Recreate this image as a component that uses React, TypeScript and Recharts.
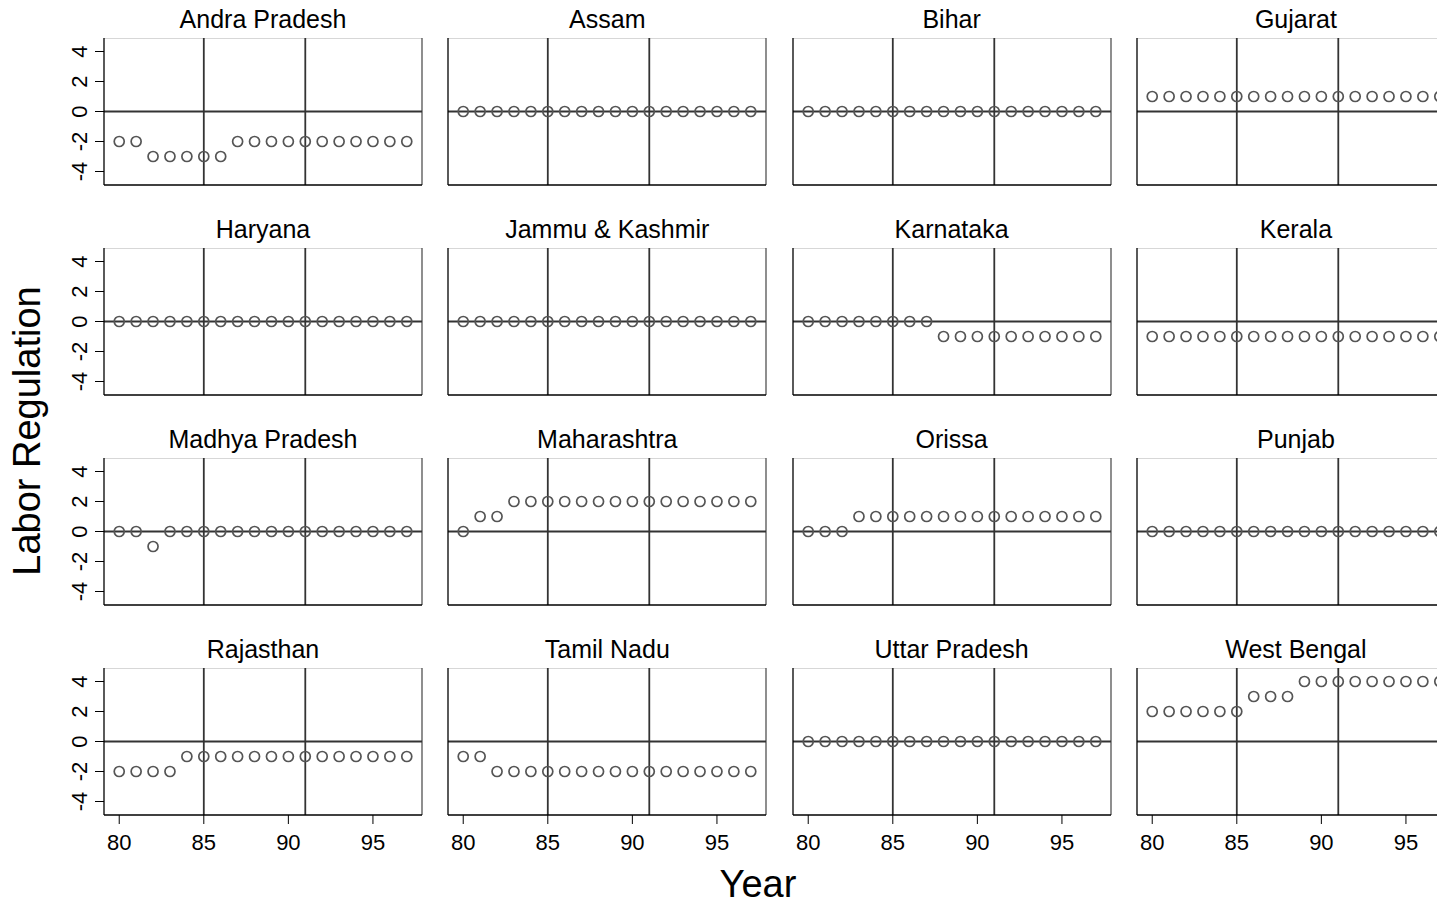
import {
  ScatterChart,
  Scatter,
  XAxis,
  YAxis,
  ReferenceLine,
} from "recharts";

const years = [80, 81, 82, 83, 84, 85, 86, 87, 88, 89, 90, 91, 92, 93, 94, 95, 96, 97];

const andraPradesh = [-2, -2, -3, -3, -3, -3, -3, -2, -2, -2, -2, -2, -2, -2, -2, -2, -2, -2];
const assam = [0, 0, 0, 0, 0, 0, 0, 0, 0, 0, 0, 0, 0, 0, 0, 0, 0, 0];
const bihar = [0, 0, 0, 0, 0, 0, 0, 0, 0, 0, 0, 0, 0, 0, 0, 0, 0, 0];
const gujarat = [1, 1, 1, 1, 1, 1, 1, 1, 1, 1, 1, 1, 1, 1, 1, 1, 1, 1];
const haryana = [0, 0, 0, 0, 0, 0, 0, 0, 0, 0, 0, 0, 0, 0, 0, 0, 0, 0];
const jammuKashmir = [0, 0, 0, 0, 0, 0, 0, 0, 0, 0, 0, 0, 0, 0, 0, 0, 0, 0];
const karnataka = [0, 0, 0, 0, 0, 0, 0, 0, -1, -1, -1, -1, -1, -1, -1, -1, -1, -1];
const kerala = [-1, -1, -1, -1, -1, -1, -1, -1, -1, -1, -1, -1, -1, -1, -1, -1, -1, -1];
const madhyaPradesh = [0, 0, -1, 0, 0, 0, 0, 0, 0, 0, 0, 0, 0, 0, 0, 0, 0, 0];
const maharashtra = [0, 1, 1, 2, 2, 2, 2, 2, 2, 2, 2, 2, 2, 2, 2, 2, 2, 2];
const orissa = [0, 0, 0, 1, 1, 1, 1, 1, 1, 1, 1, 1, 1, 1, 1, 1, 1, 1];
const punjab = [0, 0, 0, 0, 0, 0, 0, 0, 0, 0, 0, 0, 0, 0, 0, 0, 0, 0];
const rajasthan = [-2, -2, -2, -2, -1, -1, -1, -1, -1, -1, -1, -1, -1, -1, -1, -1, -1, -1];
const tamilNadu = [-1, -1, -2, -2, -2, -2, -2, -2, -2, -2, -2, -2, -2, -2, -2, -2, -2, -2];
const uttarPradesh = [0, 0, 0, 0, 0, 0, 0, 0, 0, 0, 0, 0, 0, 0, 0, 0, 0, 0];
const westBengal = [2, 2, 2, 2, 2, 2, 3, 3, 3, 4, 4, 4, 4, 4, 4, 4, 4, 4];

const xTicks = [80, 85, 90, 95];
const yTicks = [-4, -2, 0, 2, 4];
const refYears = [85, 91];

const panels = [
  { name: "Andra Pradesh", values: andraPradesh },
  { name: "Assam", values: assam },
  { name: "Bihar", values: bihar },
  { name: "Gujarat", values: gujarat },
  { name: "Haryana", values: haryana },
  { name: "Jammu & Kashmir", values: jammuKashmir },
  { name: "Karnataka", values: karnataka },
  { name: "Kerala", values: kerala },
  { name: "Madhya Pradesh", values: madhyaPradesh },
  { name: "Maharashtra", values: maharashtra },
  { name: "Orissa", values: orissa },
  { name: "Punjab", values: punjab },
  { name: "Rajasthan", values: rajasthan },
  { name: "Tamil Nadu", values: tamilNadu },
  { name: "Uttar Pradesh", values: uttarPradesh },
  { name: "West Bengal", values: westBengal },
];

const FONT = "'Liberation Sans', Arial, Helvetica, sans-serif";
const X_DOMAIN = [79.1, 97.9];
const Y_DOMAIN = [-4.9, 4.9];
const PLOT_W = 318;
const PLOT_H = 147;
const Y_AXIS_W = 60;
const X_AXIS_H = 45;

const colLeft = (c: number) => 104 + c * 344.3;
const rowTop = (r: number) => 38 + r * 210;

// hollow gray circle marker
const Circle = (props: any) => (
  <circle cx={props.cx} cy={props.cy} r={5} fill="none" stroke="#555" strokeWidth={1.7} />
);

const YTick = (props: any) => {
  const x = props.x - 6;
  const y = props.y;
  return (
    <text
      x={x}
      y={y}
      transform={`rotate(-90, ${x}, ${y})`}
      textAnchor="middle"
      fontSize={22}
      fontFamily={FONT}
      fill="#000"
    >
      {props.payload.value}
    </text>
  );
};

const Panel = ({ index }: { index: number }) => {
  const p = panels[index];
  const row = Math.floor(index / 4);
  const col = index % 4;
  const showX = row === 3;
  const showY = col === 0;
  const data = years.map((y, i) => ({ year: y, value: p.values[i] }));
  return (
    <div
      style={{
        position: "absolute",
        left: colLeft(col) - Y_AXIS_W,
        top: rowTop(row),
      }}
    >
      <ScatterChart
        width={Y_AXIS_W + PLOT_W + 2}
        height={PLOT_H + X_AXIS_H}
        margin={{ top: 0, right: 2, bottom: 0, left: 0 }}
      >
        <XAxis
          type="number"
          dataKey="year"
          domain={X_DOMAIN}
          ticks={xTicks}
          allowDataOverflow
          height={X_AXIS_H}
          axisLine={{ stroke: "#000", strokeWidth: 1.3 }}
          tickLine={showX ? { stroke: "#000", strokeWidth: 1 } : false}
          tickSize={9}
          tickMargin={10}
          tick={showX ? { fill: "#000", fontSize: 22, fontFamily: FONT } : false}
        />
        <YAxis
          type="number"
          dataKey="value"
          domain={Y_DOMAIN}
          ticks={yTicks}
          allowDataOverflow
          width={Y_AXIS_W}
          axisLine={{ stroke: "#000", strokeWidth: 1.3 }}
          tickLine={showY ? { stroke: "#000", strokeWidth: 1 } : false}
          tickSize={9}
          tick={showY ? <YTick /> : false}
        />
        <ReferenceLine y={Y_DOMAIN[1]} stroke="#b0b0b0" strokeWidth={1} />
        <ReferenceLine x={X_DOMAIN[1]} stroke="#444" strokeWidth={1.2} />
        <ReferenceLine y={0} stroke="#333" strokeWidth={1.8} />
        {refYears.map((yr) => (
          <ReferenceLine key={yr} x={yr} stroke="#333" strokeWidth={1.8} />
        ))}
        <Scatter data={data} shape={<Circle />} isAnimationActive={false} />
      </ScatterChart>
    </div>
  );
};

export default function App() {
  return (
    <div
      style={{
        position: "fixed",
        left: 0,
        top: 0,
        width: 1437,
        height: 905,
        overflow: "hidden",
        background: "#fff",
        fontFamily: FONT,
      }}
    >
      {panels.map((_, i) => (
        <Panel key={i} index={i} />
      ))}
      <svg
        width={1437}
        height={905}
        style={{ position: "absolute", left: 0, top: 0, pointerEvents: "none" }}
      >
        {panels.map((p, i) => {
          const row = Math.floor(i / 4);
          const col = i % 4;
          return (
            <text
              key={p.name}
              x={colLeft(col) + PLOT_W / 2}
              y={rowTop(row) - 9.7}
              textAnchor="middle"
              fontSize={25}
              fontFamily={FONT}
              fill="#000"
            >
              {p.name}
            </text>
          );
        })}
        <text
          x={40}
          y={431}
          transform="rotate(-90, 40, 431)"
          textAnchor="middle"
          fontSize={38}
          fontFamily={FONT}
          fill="#000"
        >
          Labor Regulation
        </text>
        <text x={758} y={897} textAnchor="middle" fontSize={38} fontFamily={FONT} fill="#000">
          Year
        </text>
      </svg>
    </div>
  );
}
